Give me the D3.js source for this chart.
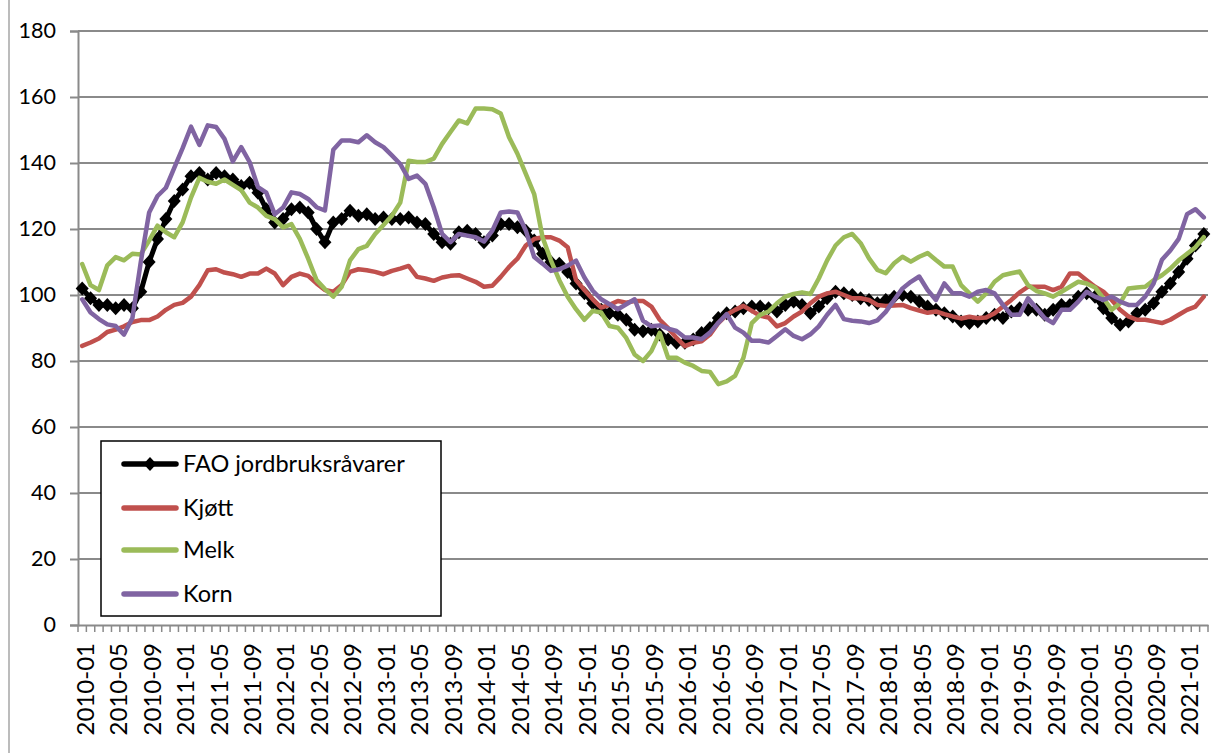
<!DOCTYPE html>
<html>
<head>
<meta charset="utf-8">
<script src="https://cdn.jsdelivr.net/npm/d3@7"></script>
<style>
  html, body { margin: 0; padding: 0; background: #fff; }
  svg { display: block; font-family: Lato, "Open Sans", sans-serif; }
</style>
</head>
<body>
<svg id="chart" width="1214" height="753"></svg>
<script>
// ---- Data (monthly, 2010-01 .. 2021-03) ----
const startYear = 2010, nMonths = 135;
const months = [];
for (let k = 0; k < nMonths; k++) {
  const yy = startYear + Math.floor(k / 12), m = (k % 12) + 1;
  months.push(yy + "-" + (m < 10 ? "0" + m : m));
}
const tickLabels = months.filter((d, i) => i % 4 === 0);
const yTicks = [0, 20, 40, 60, 80, 100, 120, 140, 160, 180];

const seriesNames = ["FAO jordbruksråvarer", "Kjøtt", "Melk", "Korn"];
const seriesColors = ["#000000", "#C0504D", "#9BBB59", "#8064A2"];

const fao = [102, 99, 97, 97, 96, 97, 96, 101, 110, 117, 123, 128.5, 132, 136, 137, 135, 137, 136, 135, 133, 134, 131, 126, 122,
  123, 126, 126.5, 125, 120, 116, 122, 123, 125.5, 124, 124.5, 123, 123.5, 123, 123, 123.5, 122, 121.5, 118.5, 116, 115.5, 119,
  119.5, 118.5, 116, 118, 121.5, 121.5, 120.5, 119.5, 116.5, 112.5, 110, 109.5, 107, 103.5, 100.5, 97.5, 95.5, 94.5, 94, 92.5,
  89.5, 89, 89.5, 88, 86.5, 85.5, 85.5, 86.5, 88.5, 90, 93, 94.5, 95, 96, 96.5, 96.5, 96, 95, 97, 98, 97, 94.5, 96.5, 99, 101,
  100.5, 100, 99, 98.5, 97.5, 98.5, 99.5, 100, 99.5, 98, 96.5, 95.5, 94.5, 93.5, 92, 91.5, 92, 93, 94, 93, 95, 96, 95.5, 95.5,
  94, 95.5, 97, 97, 99.5, 100.5, 99.5, 96, 93, 91, 92, 94.5, 95.5, 97.5, 101, 103.5, 107, 111, 115, 118.5];

const kjott = [84.6, 85.6, 86.8, 88.8, 89.5, 90.5, 91.8, 92.4, 92.4, 93.5, 95.5, 97, 97.6, 99.5, 103, 107.5, 107.8, 106.8, 106.3,
  105.5, 106.5, 106.5, 108, 106.5, 103, 105.5, 106.5, 105.8, 103.5, 101.5, 101, 103, 107, 107.8, 107.5, 107, 106.3, 107.3, 108,
  108.8, 105.5, 105, 104.3, 105.3, 105.8, 106, 105, 104, 102.5, 102.8, 105.5, 108.5, 111, 115, 117, 117.5, 117.5, 116.5, 114.5,
  104.5, 101.5, 98.7, 96.2, 97, 98.2, 97.7, 98.2, 98.2, 96.5, 92.5, 90, 87, 84.5, 85.5, 86, 88, 91.5, 94, 95.5, 96.7, 95.2, 93.7,
  93.2, 90.5, 91.5, 93.5, 95, 97.5, 99.5, 100.5, 101, 100, 99, 99, 98.5, 97, 96.7, 96.8, 97, 96, 95.3, 94.6, 95, 94.2, 93.5, 92.9,
  93.4, 93, 93.2, 94.5, 96.5, 98.5, 100.8, 102.5, 102.5, 102.5, 101.5, 102.5, 106.5, 106.5, 104.5, 102.5, 101, 98.5, 95.5, 93.5,
  92.5, 92.5, 92, 91.5, 92.5, 94, 95.5, 96.5, 99.5];

const melk = [109.4, 103, 101.5, 109, 111.5, 110.5, 112.5, 112.3, 116.5, 121, 119, 117.5, 122, 129.5, 135.5, 134.3, 133.7, 135,
  133.4, 131.8, 128, 126.5, 124, 123, 120.5, 121.5, 117, 111, 104.5, 101.8, 99.5, 102.5, 110.5, 113.9, 114.9, 118.5, 121.2, 124,
  128, 140.7, 140.3, 140.3, 141.3, 145.8, 149.4, 152.9, 152, 156.5, 156.5, 156.3, 155, 147.8, 142.8, 136.7, 130.6, 117.5, 110.5,
  104.5, 99.5, 95.7, 92.5, 95.2, 94.7, 90.6, 90.1, 87, 82, 80, 83, 88.5, 81, 81, 79.5, 78.5, 77, 76.7, 73, 73.8, 75.5, 81, 91.5,
  94, 95, 97.5, 99.5, 100.3, 100.8, 100.3, 105, 110.5, 115, 117.5, 118.5, 115.7, 111.1, 107.6, 106.6, 109.6, 111.6, 110.1, 111.6,
  112.7, 110.6, 108.6, 108.6, 103, 100.5, 98, 100.5, 104, 106, 106.6, 107.1, 103, 101.2, 100.5, 99.5, 101, 102.5, 104, 103.5,
  102.3, 99, 95.5, 97.5, 102, 102.3, 102.5, 104.5, 106, 108, 110.5, 112.5, 114.5, 117.5];

const korn = [98.7, 94.7, 92.7, 91.1, 90.6, 88, 93, 110, 125, 130, 132.5, 138.5, 144.5, 151, 145.5, 151.4, 150.9, 147.3, 140.5,
  144.8, 140.3, 132.7, 131, 124.5, 126.5, 131.1, 130.6, 129.1, 126.6, 125.6, 144, 146.8, 146.8, 146.3, 148.4, 146.3, 144.8, 142.3,
  139.7, 135.2, 136.2, 133.7, 126.6, 118.5, 116, 118.5, 118, 117.5, 116.2, 119.5, 125, 125.3, 125, 119.5, 111.5, 109.5, 107.3,
  107.8, 108.9, 110.4, 105.3, 101.3, 98.7, 97.2, 95.7, 97.2, 98.7, 92.2, 90.5, 90.8, 89.8, 89.1, 87.1, 87.1, 86.6, 88.6, 91.6,
  94.2, 90.1, 88.6, 86.1, 86.1, 85.6, 87.6, 89.6, 87.6, 86.6, 88.1, 90.5, 94, 97, 92.7, 92.2, 92, 91.5, 92.3, 94.9, 98.5, 102,
  104, 105.6, 101.5, 98.5, 103.5, 100.5, 100.5, 99.5, 101, 101.5, 100.5, 97, 94, 94, 99, 96, 93, 91.5, 95.5, 95.5, 98, 101, 99.5,
  98.5, 99.5, 98, 97, 97, 99.5, 103.5, 110.7, 113.5, 117, 124.5, 126, 123.5];

const allSeries = [fao, kjott, melk, korn];

// ---- Layout ----
const svg = d3.select("#chart");
const plotLeft = 78, plotRight = 1208, plotTop = 31, plotBottom = 625;

const x = d3.scaleBand().domain(months).range([plotLeft, plotRight]).paddingInner(0).paddingOuter(0);
const xc = d => x(d) + x.bandwidth() / 2;
const y = d3.scaleLinear().domain([0, 180]).range([plotBottom, plotTop]);

const gridColor = "#8a8a8a";

// outer chart border fragment (left edge)
svg.append("line").attr("x1", 9).attr("x2", 9).attr("y1", 0).attr("y2", 753)
  .attr("stroke", "#a6a6a6").attr("stroke-width", 1.5);

// Gridlines + y axis
const yAxis = d3.axisLeft(y).tickValues(yTicks).tickSize(8).tickPadding(14).tickFormat(d3.format("d"));
const gy = svg.append("g").attr("transform", `translate(${plotLeft},0)`).call(yAxis);
gy.select(".domain").attr("stroke", gridColor).attr("stroke-width", 2);
gy.selectAll(".tick line").attr("stroke", gridColor).attr("stroke-width", 2);
gy.selectAll(".tick text").attr("font-size", 21.5).attr("fill", "#000").attr("font-family", "Lato, sans-serif");

svg.append("g").selectAll("line.grid").data(yTicks.filter(d => d > 0)).join("line")
  .attr("x1", plotLeft).attr("x2", plotRight).attr("y1", d => y(d)).attr("y2", d => y(d))
  .attr("stroke", gridColor).attr("stroke-width", 2);

// x axis with minor ticks at every category boundary
const xAxis = d3.axisBottom(x).tickValues(tickLabels).tickSize(0).tickPadding(0);
const gx = svg.append("g").attr("transform", `translate(0,${plotBottom})`).call(xAxis);
gx.select(".domain").attr("stroke", gridColor).attr("stroke-width", 2);
gx.selectAll(".tick text")
  .attr("font-size", 24).attr("fill", "#000").attr("font-family", "Lato, sans-serif")
  .attr("text-anchor", "end")
  .attr("transform", "translate(3,18) rotate(-90)")
  .attr("x", 0).attr("y", 0).attr("dy", "0.35em");

const boundaries = months.map(d => x(d)).concat([plotRight]);
svg.append("g").selectAll("line").data(boundaries).join("line")
  .attr("x1", d => d).attr("x2", d => d).attr("y1", plotBottom).attr("y2", plotBottom + 7)
  .attr("stroke", gridColor).attr("stroke-width", 1.5);

// ---- Lines ----
const line = d3.line().x((d, i) => xc(months[i])).y(d => y(d));
allSeries.forEach((s, k) => {
  svg.append("path").datum(s).attr("d", line)
    .attr("fill", "none").attr("stroke", seriesColors[k])
    .attr("stroke-width", k === 0 ? 5 : 4.5).attr("stroke-linejoin", "round").attr("stroke-linecap", "round");
  if (k === 0) {
    svg.append("g").selectAll("path").data(s).join("path")
      .attr("d", (d, i) => {
        const cx = xc(months[i]), cy = y(d);
        return `M${cx},${cy - 7}L${cx + 6.5},${cy}L${cx},${cy + 7}L${cx - 6.5},${cy}Z`;
      })
      .attr("fill", "#000");
  }
});

// ---- Legend ----
const lg = svg.append("g");
lg.append("rect").attr("x", 101).attr("y", 441).attr("width", 340).attr("height", 175)
  .attr("fill", "#fff").attr("stroke", "#000").attr("stroke-width", 1.5);
const legY = [464, 508, 550, 594];
seriesNames.forEach((name, k) => {
  lg.append("line").attr("x1", 124).attr("x2", 176).attr("y1", legY[k]).attr("y2", legY[k])
    .attr("stroke", seriesColors[k]).attr("stroke-width", 5.5).attr("stroke-linecap", "round");
  if (k === 0) {
    lg.append("path").attr("d", `M150,${legY[k] - 7}L156.5,${legY[k]}L150,${legY[k] + 7}L143.5,${legY[k]}Z`).attr("fill", "#000");
  }
  lg.append("text").attr("x", 183).attr("y", legY[k]).attr("dy", "0.36em")
    .attr("font-size", 23.5).attr("fill", "#000").text(name);
});
</script>
</body>
</html>
